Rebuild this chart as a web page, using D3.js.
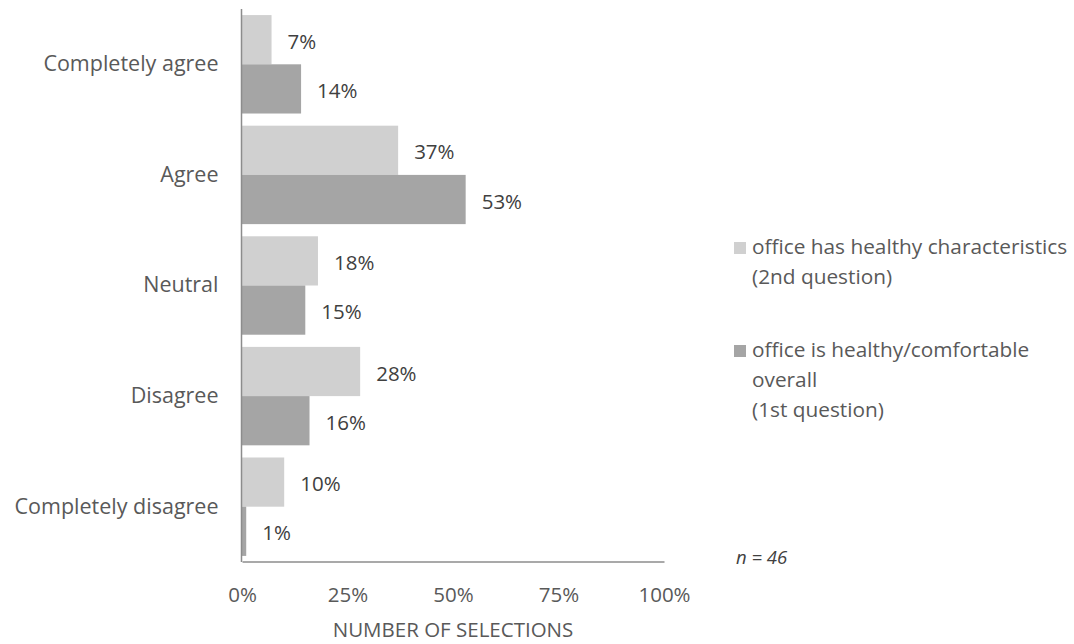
<!DOCTYPE html>
<html>
<head>
<meta charset="utf-8">
<script src="https://cdn.jsdelivr.net/npm/d3@7"></script>
<style>
  html, body { margin: 0; padding: 0; background: #ffffff; }
  svg { display: block; }
  text { font-family: "Open Sans", "Noto Sans", sans-serif; }
</style>
</head>
<body>
<svg id="chart" width="1074" height="644"></svg>
<script>
// Survey responses, share of selections per answer
const categories = ["Completely agree", "Agree", "Neutral", "Disagree", "Completely disagree"];
const seriesNames = ["office has healthy characteristics (2nd question)",
                     "office is healthy/comfortable overall (1st question)"];
const secondQuestion = [7, 37, 18, 28, 10];
const firstQuestion  = [14, 53, 15, 16, 1];
const tickValues = [0, 25, 50, 75, 100];
const legendLines = [
  ["office has healthy characteristics", "(2nd question)"],
  ["office is healthy/comfortable", "overall", "(1st question)"]
];
const sampleNote = "n = 46";
const axisTitle = "NUMBER OF SELECTIONS";

const colors = ["#d0d0d0", "#a5a5a5"];
const textColor = "#595959";
const axisColor = "#8c8c8c";

const svg = d3.select("#chart");

const x = d3.scaleLinear().domain([0, 100]).range([242, 664]);
const y = d3.scaleBand().domain(categories).range([9, 562])
  .paddingInner(0.11).paddingOuter(0.055);
const ySub = d3.scaleBand().domain([0, 1]).range([0, y.bandwidth()]);

const rows = categories.map((c, i) => ({
  category: c,
  values: [secondQuestion[i], firstQuestion[i]]
}));

// bars
const groups = svg.append("g").selectAll("g")
  .data(rows).join("g")
  .attr("transform", d => `translate(0,${y(d.category)})`);

groups.selectAll("rect")
  .data(d => d.values.map((v, k) => ({ v, k })))
  .join("rect")
  .attr("x", x(0))
  .attr("y", d => ySub(d.k))
  .attr("width", d => x(d.v) - x(0))
  .attr("height", ySub.bandwidth())
  .attr("fill", d => colors[d.k]);

// value labels
groups.selectAll("text.value")
  .data(d => d.values.map((v, k) => ({ v, k })))
  .join("text")
  .attr("class", "value")
  .attr("x", d => x(d.v) + 16)
  .attr("y", d => ySub(d.k) + ySub.bandwidth() / 2 + 2)
  .attr("dy", "0.35em")
  .attr("font-size", 20.5)
  .attr("fill", "#404040")
  .text(d => d.v + "%");

// category axis
const yAxis = svg.append("g")
  .attr("transform", `translate(${x(0) - 0.5},0)`)
  .call(d3.axisLeft(y).tickSize(0).tickPadding(23));
yAxis.select(".domain").attr("stroke", axisColor).attr("stroke-width", 1.5)
  .attr("d", `M0,9V562`);
yAxis.selectAll("text").attr("font-size", 21.5).attr("fill", textColor)
  .style("font-family", "'Open Sans', sans-serif");

// value axis
const xAxis = svg.append("g")
  .attr("transform", `translate(0,561.5)`)
  .call(d3.axisBottom(x).tickValues(tickValues).tickFormat(d => d + "%")
    .tickSize(0).tickPadding(26));
xAxis.select(".domain").attr("stroke", axisColor).attr("stroke-width", 1.5);
xAxis.selectAll("text").attr("font-size", 20.5).attr("fill", textColor)
  .style("font-family", "'Open Sans', sans-serif");

svg.append("text")
  .attr("x", (x(0) + x(100)) / 2)
  .attr("y", 630)
  .attr("dy", "0.35em")
  .attr("text-anchor", "middle")
  .attr("font-size", 20.5)
  .attr("fill", textColor)
  .text(axisTitle);

// legend
const legendTop = [248, 351];
const legend = svg.append("g");
legendLines.forEach((lines, k) => {
  legend.append("rect")
    .attr("x", 734).attr("y", legendTop[k] - 6)
    .attr("width", 12).attr("height", 12)
    .attr("fill", colors[k]);
  lines.forEach((line, j) => {
    legend.append("text")
      .attr("x", 752)
      .attr("y", legendTop[k] + j * 30)
      .attr("dy", "0.3em")
      .attr("font-size", 20.8)
      .attr("fill", textColor)
      .text(line);
  });
});

svg.append("text")
  .attr("x", 736)
  .attr("y", 558)
  .attr("dy", "0.35em")
  .attr("font-size", 18.5)
  .attr("font-style", "italic")
  .attr("fill", "#404040")
  .text(sampleNote);
</script>
</body>
</html>
